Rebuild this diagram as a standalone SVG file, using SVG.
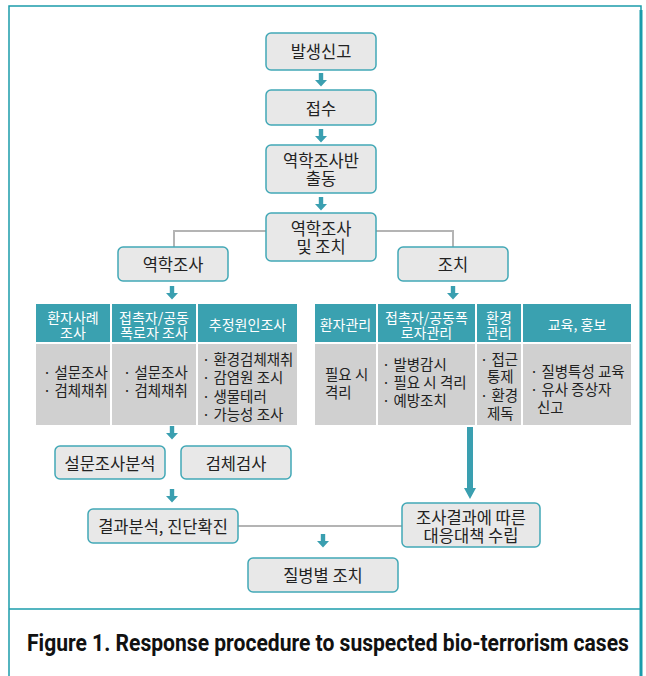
<svg xmlns="http://www.w3.org/2000/svg" xmlns:xlink="http://www.w3.org/1999/xlink" width="646" height="676" viewBox="0 0 646 676">
<style>
.node{fill:#e8e8e8;stroke:#42a8b6;stroke-width:1.5}
.t{font-family:"Noto Sans CJK KR","Noto Sans",sans-serif;font-size:16.5px;fill:#222;text-anchor:middle;dominant-baseline:central}
.hd{fill:#3aa1b0}
.bd{fill:#d0d0d0}
.ht{font-family:"Noto Sans CJK KR","Noto Sans",sans-serif;font-size:14px;fill:#fff;text-anchor:middle;dominant-baseline:central}
.bt{font-family:"Noto Sans CJK KR","Noto Sans",sans-serif;font-size:14.5px;fill:#222;dominant-baseline:central}
.conn{fill:none;stroke:#b4b4b4;stroke-width:2}
.arr{fill:#3a9fb0}
.frame{fill:none;stroke:#1b9cab;stroke-width:1.5}
.cap{font-family:Roboto,"Liberation Sans",sans-serif;font-weight:700;font-size:23.5px;fill:#111}
</style>
<defs>
<path id="ar" class="arr" d="M-2.2,0 H2.2 V7 H6 L0,13.5 L-6,7 H-2.2 Z"/>
</defs>
<rect width="646" height="676" fill="#fff"/>
<g id="frame">
<path class="frame" d="M9,680 V6 H641 V680"/>
<line x1="641" y1="10" x2="641" y2="680" stroke="#1b9cab" stroke-width="3"/>
<line x1="9" y1="609" x2="641" y2="609" stroke="#1b9cab" stroke-width="1.5"/>
</g>
<g id="connectors">
<polyline class="conn" points="266,231 174,231 174,247"/>
<polyline class="conn" points="376,231 453,231 453,247"/>
<line class="conn" x1="238" y1="526" x2="402" y2="526"/>
<use xlink:href="#ar" x="321" y="73"/>
<use xlink:href="#ar" x="321" y="129"/>
<use xlink:href="#ar" x="321" y="197"/>
<use xlink:href="#ar" x="172" y="286"/>
<use xlink:href="#ar" x="453" y="286"/>
<use xlink:href="#ar" x="172" y="426"/>
<use xlink:href="#ar" x="172" y="489"/>
<use xlink:href="#ar" x="323" y="534"/>
<path class="arr" d="M467,427 H473 V488 H476 L470,499 L464,488 H467 Z"/>
</g>
<g id="n1"><rect class="node" x="266" y="33" width="110" height="37" rx="5"/><text class="t" x="321" y="51">발생신고</text></g>
<g id="n2"><rect class="node" x="266" y="90" width="110" height="35" rx="5"/><text class="t" x="321" y="108">접수</text></g>
<g id="n3"><rect class="node" x="266" y="145" width="110" height="48" rx="5"/><text class="t" x="321" y="160">역학조사반</text><text class="t" x="321" y="178">출동</text></g>
<g id="n4"><rect class="node" x="266" y="213" width="110" height="48" rx="5"/><text class="t" x="321" y="228">역학조사</text><text class="t" x="321" y="246">및 조치</text></g>
<g id="n5"><rect class="node" x="118" y="247" width="110" height="34" rx="5"/><text class="t" x="173" y="264">역학조사</text></g>
<g id="n6"><rect class="node" x="398" y="247" width="110" height="34" rx="5"/><text class="t" x="453" y="264">조치</text></g>
<g id="tableL">
<rect class="hd" x="36" y="304" width="74" height="38"/>
<rect class="hd" x="112" y="304" width="84" height="38"/>
<rect class="hd" x="198" y="304" width="99" height="38"/>
<rect class="bd" x="36" y="344" width="74" height="81"/>
<rect class="bd" x="112" y="344" width="84" height="81"/>
<rect class="bd" x="198" y="344" width="99" height="81"/>
<text class="ht" x="73" y="317">환자사례</text><text class="ht" x="73" y="332">조사</text>
<text class="ht" x="154" y="317">접촉자/공동</text><text class="ht" x="154" y="332">폭로자 조사</text>
<text class="ht" x="247.5" y="324">추정원인조사</text>
<text class="bt" x="43" y="371">· 설문조사</text><text class="bt" x="43" y="389">· 검체채취</text>
<text class="bt" x="123" y="371">· 설문조사</text><text class="bt" x="123" y="389">· 검체채취</text>
<text class="bt" x="202" y="358">· 환경검체채취</text><text class="bt" x="202" y="376">· 감염원 조시</text><text class="bt" x="202" y="395">· 생물테러</text><text class="bt" x="202" y="413">· 가능성 조사</text>
</g>
<g id="tableR">
<rect class="hd" x="315" y="304" width="61" height="38"/>
<rect class="hd" x="378" y="304" width="97" height="38"/>
<rect class="hd" x="477" y="304" width="44" height="38"/>
<rect class="hd" x="523" y="304" width="108" height="38"/>
<rect class="bd" x="315" y="344" width="61" height="81"/>
<rect class="bd" x="378" y="344" width="97" height="81"/>
<rect class="bd" x="477" y="344" width="44" height="81"/>
<rect class="bd" x="523" y="344" width="108" height="81"/>
<text class="ht" x="345.5" y="324">환자관리</text>
<text class="ht" x="426.5" y="317">접촉자/공동폭</text><text class="ht" x="426.5" y="332">로자관리</text>
<text class="ht" x="499" y="317">환경</text><text class="ht" x="499" y="332">관리</text>
<text class="ht" x="577" y="324">교육, 홍보</text>
<text class="bt" x="325" y="373">필요 시</text><text class="bt" x="325" y="391">격리</text>
<text class="bt" x="382" y="363">· 발병감시</text><text class="bt" x="382" y="381">· 필요 시 격리</text><text class="bt" x="382" y="399">· 예방조치</text>
<text class="bt" x="480" y="358">· 접근</text><text class="bt" x="487" y="375">통제</text><text class="bt" x="480" y="394">· 환경</text><text class="bt" x="487" y="412">제독</text>
<text class="bt" x="530" y="370">· 질병특성 교육</text><text class="bt" x="530" y="388">· 유사 증상자</text><text class="bt" x="537" y="406">신고</text>
</g>
<g id="n7"><rect class="node" x="55" y="446" width="110" height="33" rx="5"/><text class="t" x="110" y="463">설문조사분석</text></g>
<g id="n8"><rect class="node" x="181" y="446" width="110" height="33" rx="5"/><text class="t" x="236" y="463">검체검사</text></g>
<g id="n9"><rect class="node" x="88" y="509" width="150" height="34" rx="5"/><text class="t" x="163" y="526">결과분석, 진단확진</text></g>
<g id="n10"><rect class="node" x="402" y="503" width="138" height="44" rx="5"/><text class="t" x="471" y="517">조사결과에 따른</text><text class="t" x="471" y="535">대응대책 수립</text></g>
<g id="n11"><rect class="node" x="248" y="558" width="150" height="34" rx="5"/><text class="t" x="323" y="575">질병별 조치</text></g>
<text class="cap" transform="translate(27,651) scale(0.82,1)" x="0" y="0" textLength="734" lengthAdjust="spacingAndGlyphs">Figure 1. Response procedure to suspected bio-terrorism cases</text>
</svg>
